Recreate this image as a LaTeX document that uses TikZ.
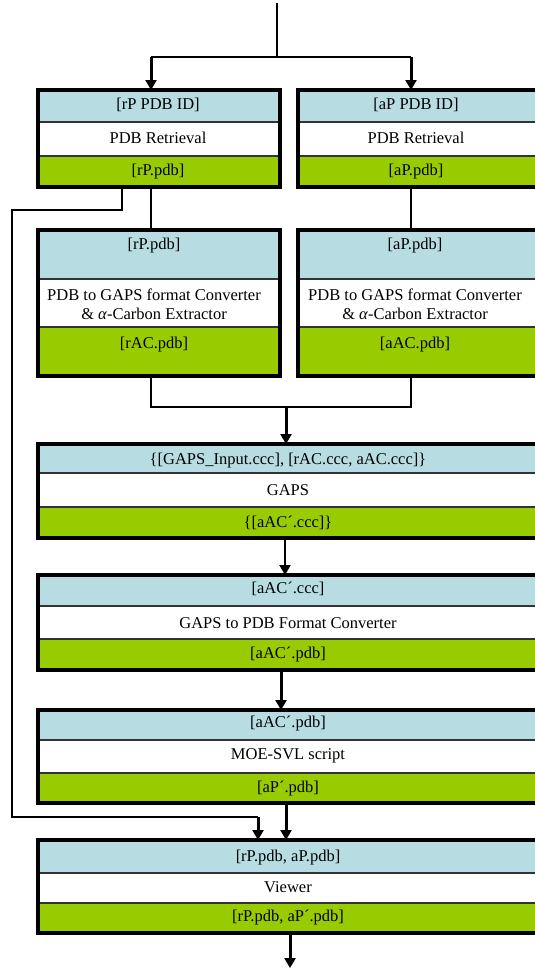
\documentclass[tikz,border=0pt]{standalone}
\usepackage{fontspec}
\setmainfont{Liberation Serif}
\usetikzlibrary{arrows.meta}
\definecolor{inblue}{HTML}{B7DDE3}
\definecolor{outgreen}{HTML}{99CC00}
\definecolor{sepgray}{HTML}{333333}
\tikzset{
  band/.style={draw=sepgray, line width=1.4pt, inner sep=0pt, outer sep=0pt, anchor=north west},
  inband/.style={band, fill=inblue},
  procband/.style={band, fill=white},
  outband/.style={band, fill=outgreen},
  frame/.style={draw=black, line width=4pt},
  lbl/.style={font=\fontsize{16.5}{19}\selectfont, inner sep=0pt, align=center, text=black},
  conn/.style={draw=black, line width=1.5pt},
  arr/.style={draw=black, line width=3pt, -{Triangle[width=11pt,length=10pt]}},
}
% #1 name, #2 left x, #3 width, #4..#7 band boundaries (top to bottom)
\newcommand\stagebox[7]{%
  \node[inband, minimum width=#3pt, minimum height={(#5-#4)*1pt}] (#1t) at (#2,#4) {};
  \node[procband, minimum width=#3pt, minimum height={(#6-#5)*1pt}] (#1m) at (#2,#5) {};
  \node[outband, minimum width=#3pt, minimum height={(#7-#6)*1pt}] (#1b) at (#2,#6) {};
  \draw[frame] (#1t.north west) rectangle (#1b.south east);
}
\begin{document}
\begin{tikzpicture}[x=1pt,y=-1pt]
\useasboundingbox (0,0) rectangle (535,969);
\fill[white] (0,0) rectangle (535,969);
\clip (0,0) rectangle (535,969);

% boxes
\stagebox{bOneL}{38}{242}{90}{122}{156}{187}
\stagebox{bOneR}{298}{260}{90}{122}{156}{187}
\stagebox{bTwoL}{38}{242}{230}{279}{327}{376}
\stagebox{bTwoR}{298}{260}{230}{279}{327}{376}
\stagebox{bThree}{38}{520}{444}{473}{507}{538}
\stagebox{bFour}{38}{520}{575}{606}{639}{670}
\stagebox{bFive}{38}{520}{710}{740}{773}{803}
\stagebox{bSix}{38}{520}{840}{873}{903}{933}

% texts
\node[lbl] (tOneLa) at (158,105) {[rP PDB ID]};
\node[lbl] (tOneLb) at (158,138) {PDB Retrieval};
\node[lbl] (tOneLc) at (158,172) {[rP.pdb]};
\node[lbl] (tOneRa) at (416,105) {[aP PDB ID]};
\node[lbl] (tOneRb) at (416,138) {PDB Retrieval};
\node[lbl] (tOneRc) at (416,172) {[aP.pdb]};

\node[lbl] (tTwoLa) at (154,246) {[rP.pdb]};
\node[lbl] (tTwoLb) at (154,304) {PDB to GAPS format Converter\\ \& \textit{α}-Carbon Extractor};
\node[lbl] (tTwoLc) at (154,345) {[rAC.pdb]};
\node[lbl] (tTwoRa) at (415,246) {[aP.pdb]};
\node[lbl] (tTwoRb) at (415,304) {PDB to GAPS format Converter\\ \& \textit{α}-Carbon Extractor};
\node[lbl] (tTwoRc) at (415,345) {[aAC.pdb]};

\node[lbl] (tThreeA) at (288,461) {\{[GAPS\_Input.ccc], [rAC.ccc, aAC.ccc]\}};
\node[lbl] (tThreeB) at (288,490) {GAPS};
\node[lbl] (tThreeC) at (288,523) {\{[aAC´.ccc]\}};

\node[lbl] (tFourA) at (288,589) {[aAC´.ccc]};
\node[lbl] (tFourB) at (288,623) {GAPS to PDB Format Converter};
\node[lbl] (tFourC) at (288,655) {[aAC´.pdb]};

\node[lbl] (tFiveA) at (288,724) {[aAC´.pdb]};
\node[lbl] (tFiveB) at (288,756) {MOE-SVL script};
\node[lbl] (tFiveC) at (288,789) {[aP´.pdb]};

\node[lbl] (tSixA) at (288,858) {[rP.pdb, aP.pdb]};
\node[lbl] (tSixB) at (288,887) {Viewer};
\node[lbl] (tSixC) at (288,918) {[rP.pdb, aP´.pdb]};

% connectors
\coordinate (src) at (277,3);
\coordinate (split) at (277,57);
\coordinate (jL) at (151,57);
\coordinate (jR) at (411,57);
\draw[conn] (src) -- (split);
\draw[conn] (jL) -- (jR);
\draw[arr] (jL) -- (jL |- bOneLt.north);
\draw[arr] (jR) -- (jR |- bOneRt.north);

\coordinate (xL) at (151,0);
\coordinate (xR) at (411,0);
\draw[conn] (xL |- bOneLb.south) -- (xL |- bTwoLt.north);
\draw[conn] (xR |- bOneRb.south) -- (xR |- bTwoRt.north);

\coordinate (mL) at (151,407);
\coordinate (mR) at (411,407);
\coordinate (mC) at (286,407);
\draw[conn] (xL |- bTwoLb.south) -- (mL) -- (mR) -- (xR |- bTwoRb.south);
\draw[arr] (mC) -- (mC |- bThreet.north);

\coordinate (xThreeFour) at (285,0);
\draw[arr, line width=2.2pt] (xThreeFour |- bThreeb.south) -- (xThreeFour |- bFourt.north);
\coordinate (xFourFive) at (281,0);
\draw[arr] (xFourFive |- bFourb.south) -- (xFourFive |- bFivet.north);
\coordinate (xFiveSix) at (286,0);
\draw[arr] (xFiveSix |- bFiveb.south) -- (xFiveSix |- bSixt.north);

\coordinate (xLoop) at (122,0);
\coordinate (lpA) at (122,210);
\coordinate (lpB) at (12,210);
\coordinate (lpC) at (12,817);
\coordinate (lpD) at (258,817);
\draw[conn] (xLoop |- bOneLb.south) -- (lpA) -- (lpB) -- (lpC) -- (lpD);
\draw[arr] (lpD) -- (lpD |- bSixt.north);

\coordinate (outEnd) at (290,968);
\draw[arr] (outEnd |- bSixb.south) -- (outEnd);
\end{tikzpicture}
\end{document}
